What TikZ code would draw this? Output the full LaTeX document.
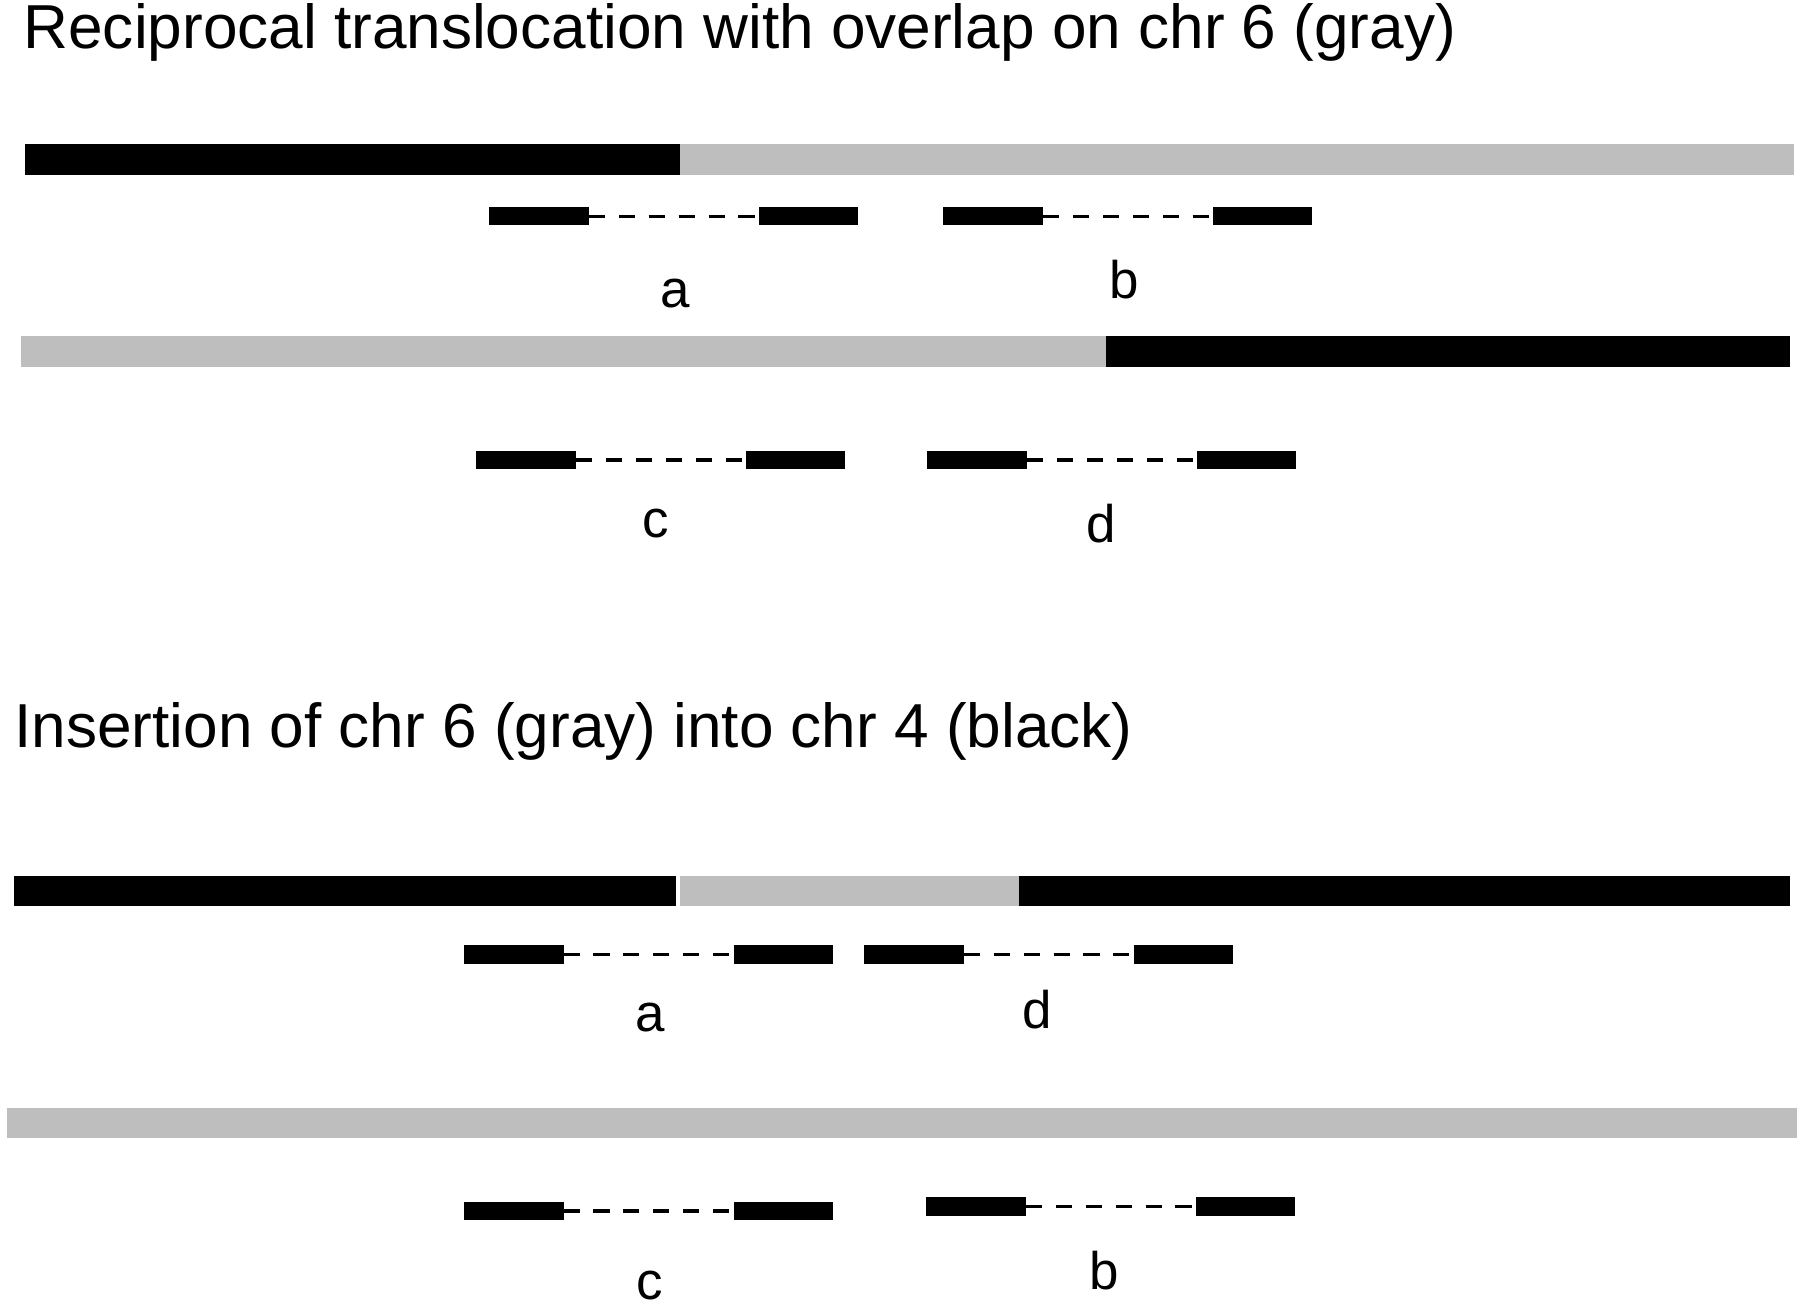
\documentclass[tikz,border=0pt]{standalone}
\usepackage{fontspec}
\setmainfont{Liberation Sans}
\definecolor{chrgray}{RGB}{190,190,190}
\tikzset{every picture/.style={line width=1pt}}
\tikzset{
  chrblack/.style={fill=black},
  chrgrey/.style={fill=chrgray},
  lbl/.style={inner sep=0pt,font=\fontsize{46}{54}\selectfont},
  ttl/.style={anchor=west,inner sep=0pt,font=\fontsize{54}{62}\selectfont}
}
% paired read: left end x, centre y
\newcommand{\readpair}[2]{%
  \fill (#1,#2-8) rectangle ++(87,16);
  \draw [line width=3pt,dash pattern=on 14pt off 12pt] (#1+87,#2) -- (#1+235,#2);
  \fill (#1+235,#2-8) rectangle ++(86,16);
}
\begin{document}
\begin{tikzpicture}[x=1pt,y=1pt,yscale=-1]
\useasboundingbox (0,0) rectangle (1565,1140);

% Text Node
\node [ttl] (title1) at (20,28) {Reciprocal translocation with overlap on chr 6 (gray)};
%Chromosomes
\fill [chrblack] (22,125) rectangle (591,152);
\fill [chrgrey] (591,125) rectangle (1560,152);
\readpair{425}{188}
\readpair{820}{188}
\node [lbl] (la1) at (587,255) {a};
\node [lbl] (lb1) at (977,243) {b};
\fill [chrgrey] (18,292) rectangle (962,319);
\fill [chrblack] (962,292) rectangle (1556,319);
\readpair{414}{400}
\readpair{806}{400}
\node [lbl] (lc1) at (570,455) {c};
\node [lbl] (ld1) at (957,455) {d};

% Text Node
\node [ttl] (title2) at (12,636) {Insertion of chr 6 (gray) into chr 4 (black)};
%Chromosomes
\fill [chrblack] (12,762) rectangle (588,788);
\fill [chrgrey] (591,762) rectangle (886,788);
\fill [chrblack] (886,762) rectangle (1556,788);
\readpair{403}{830}
\readpair{751}{830}
\node [lbl] (la2) at (565,885) {a};
\node [lbl] (ld2) at (902,878) {d};
\fill [chrgrey] (6,963) rectangle (1562,989);
\readpair{403}{1053}
\readpair{805}{1049}
\node [lbl] (lc2) at (565,1118) {c};
\node [lbl] (lb2) at (960,1105) {b};

\end{tikzpicture}
\end{document}
